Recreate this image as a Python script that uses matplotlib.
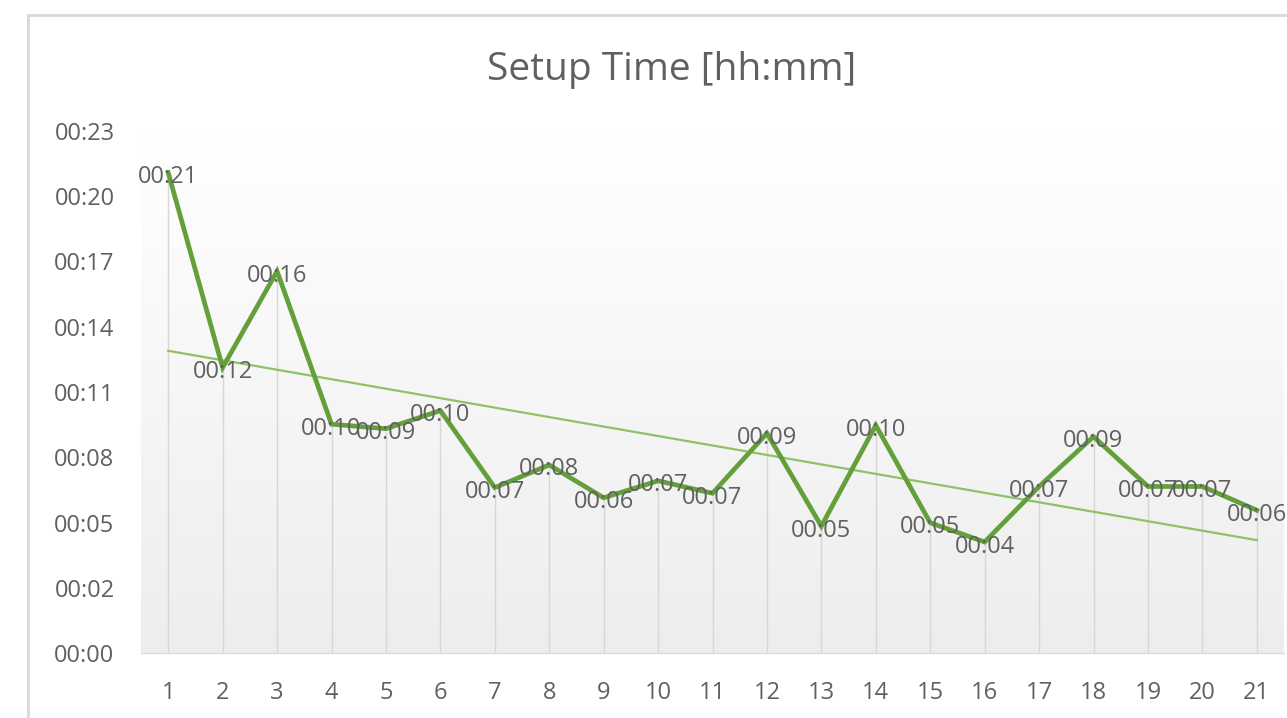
import numpy as np
import matplotlib
matplotlib.use("Agg")
import matplotlib.pyplot as plt
from matplotlib.lines import Line2D
from matplotlib.ticker import FixedLocator, FixedFormatter

plt.rcParams['font.family'] = ['Open Sans', 'DejaVu Sans']

# ---- data ----
runs = list(range(1, 22))
setup_minutes = [21.2, 12.6, 16.85, 10.1, 9.9, 10.7, 7.3, 8.3, 6.85, 7.6, 7.05,
                 9.7, 5.6, 10.05, 5.75, 4.9, 7.35, 9.55, 7.35, 7.35, 6.3]
point_labels = ['00:21', '00:12', '00:16', '00:10', '00:09', '00:10', '00:07',
                '00:08', '00:06', '00:07', '00:07', '00:09', '00:05', '00:10',
                '00:05', '00:04', '00:07', '00:09', '00:07', '00:07', '00:06']
y_tick_labels = ['00:00', '00:02', '00:05', '00:08', '00:11', '00:14',
                 '00:17', '00:20', '00:23']
title = 'Setup Time [hh:mm]'

W, H = 1287, 718
fig = plt.figure(figsize=(W / 100, H / 100), dpi=100)
fig.patch.set_facecolor('white')

# chart-area border (top and left visible)
fig.add_artist(Line2D([28 / W, 1.0], [1 - 15 / H, 1 - 15 / H], transform=fig.transFigure,
                      color='#d9d9d9', lw=2))
fig.add_artist(Line2D([28 / W, 28 / W], [0.0, 1 - 15 / H], transform=fig.transFigure,
                      color='#d9d9d9', lw=2))

ax = fig.add_axes([141 / W, 1 - 653 / H, (1284 - 141) / W, (653 - 131) / H])
step = 2.88
yticks = [i * step for i in range(len(y_tick_labels))]
ax.set_xlim(0.5, 21.5)
ax.set_ylim(0, yticks[-1])

# gradient background
grad = np.linspace(1.0, 0.0, 256).reshape(-1, 1)
top = np.array([1.0, 1.0, 1.0])
bot = np.array([0.93, 0.93, 0.93])
img = top[None, None, :] * grad[:, :, None] + bot[None, None, :] * (1 - grad[:, :, None])
ax.imshow(img, extent=[0, 1, 0, 1], transform=ax.transAxes, aspect='auto', zorder=0)

# drop lines
ax.vlines(runs, 0, setup_minutes, colors='#d6d6d6', lw=1.0, zorder=1)

# trendline (linear)
coef = np.polyfit(runs, setup_minutes, 1)
tx = np.array([runs[0], runs[-1]])
ax.plot(tx, np.polyval(coef, tx), color='#8fc267', lw=1.6, zorder=2)

# main line
ax.plot(runs, setup_minutes, color='#63a03a', lw=3.4, zorder=3, solid_joinstyle='miter')

for x, y, s in zip(runs, setup_minutes, point_labels):
    ax.text(x, y - 0.2, s, ha='center', va='center', fontsize=17, color='#606060', zorder=4)

ax.yaxis.set_major_locator(FixedLocator(yticks))
ax.yaxis.set_major_formatter(FixedFormatter(y_tick_labels))
ax.set_xticks(runs)
ax.set_xticklabels([str(r) for r in runs])
ax.tick_params(axis='both', length=0, labelsize=17, colors='#606060')
ax.tick_params(axis='y', pad=19)
ax.tick_params(axis='x', pad=20)
for sp in ['top', 'right', 'left']:
    ax.spines[sp].set_visible(False)
ax.spines['bottom'].set_color('#d9d9d9')
ax.spines['bottom'].set_linewidth(1)

fig.text(672 / W, 1 - 70 / H, title, ha='center', va='center', fontsize=28, color='#606060')

fig.savefig('out.png', dpi=100)
